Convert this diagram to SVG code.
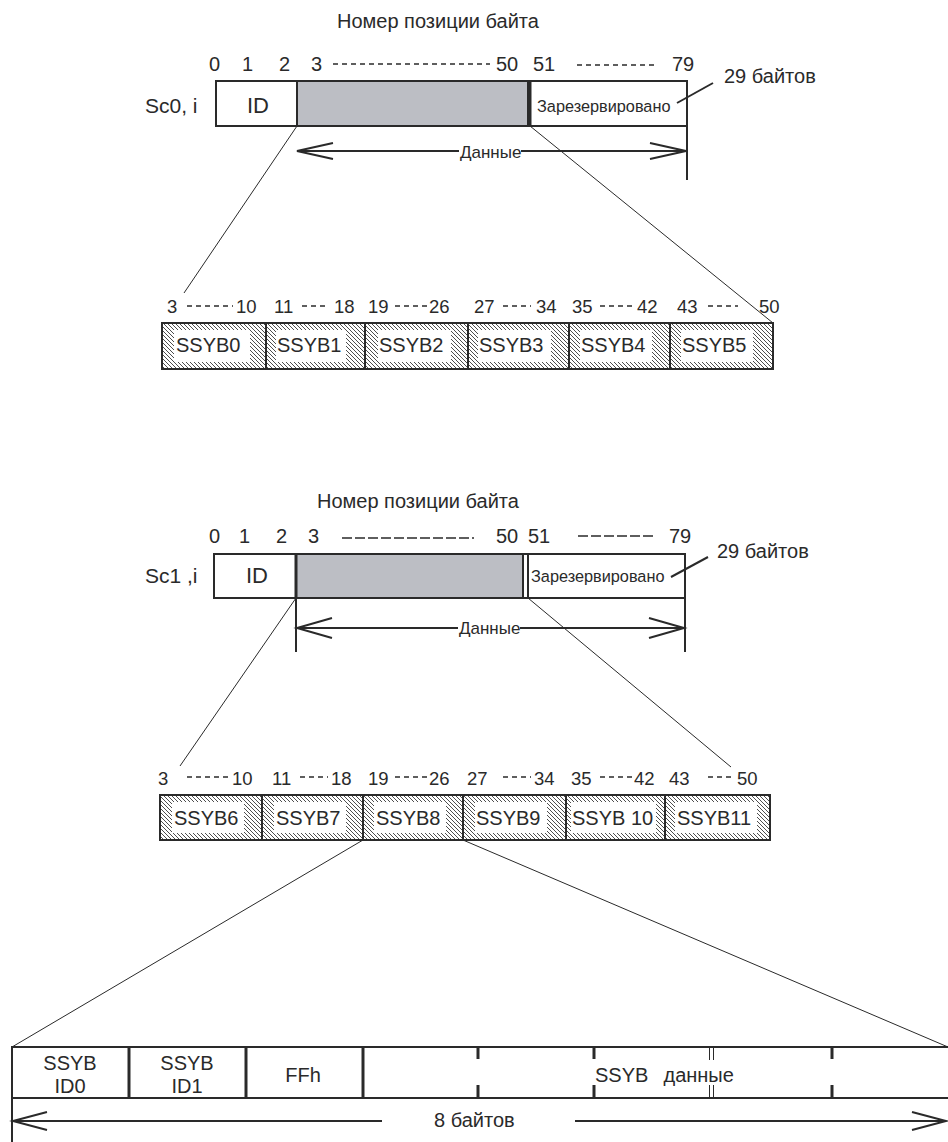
<svg xmlns="http://www.w3.org/2000/svg" width="948" height="1142" viewBox="0 0 948 1142">
<defs>
<pattern id="hatch" patternUnits="userSpaceOnUse" width="4" height="4">
<rect width="4" height="4" fill="#fff"/>
<path d="M-1,-1 L5,5 M-1,3 L1,5 M3,-1 L5,1" stroke="#3a3a3a" stroke-width="0.9"/>
</pattern>
<style>
text{font-family:"Liberation Sans",Arial,sans-serif;fill:#2a2a2a}
.t22{font-size:22px}
.t21{font-size:21px}
.t20{font-size:20px}
.t19{font-size:19px}
.t18{font-size:18.5px}
.t17{font-size:17px}
.t16{font-size:16.3px}
.box{fill:#fff;stroke:#2a2a2a;stroke-width:2}
.gray{fill:#bcbec4;stroke:#2a2a2a;stroke-width:2}
.ln{stroke:#2a2a2a;stroke-width:2;fill:none}
.thin{stroke:#2a2a2a;stroke-width:1;fill:none}
.thick{stroke:#2a2a2a;stroke-width:3;fill:none}
.ds{stroke:#2a2a2a;stroke-width:1.3;stroke-dasharray:5 4;fill:none}
.dl{stroke:#2a2a2a;stroke-width:1.3;stroke-dasharray:10 3;fill:none}
.hcell{fill:url(#hatch);stroke:none}
.hwin{fill:#fff;stroke:none}
.cellb{fill:none;stroke:#2a2a2a;stroke-width:2}
.mid{text-anchor:middle}
</style>
</defs>

<!-- ===== Section 1 ===== -->
<g id="title1"><text class="t20" x="337" y="28">Номер позиции байта</text></g>
<g id="scale1">
<text class="t20" x="209" y="71">0</text>
<text class="t20" x="242" y="71">1</text>
<text class="t20" x="279" y="71">2</text>
<text class="t20" x="311" y="71">3</text>
<line class="ds" x1="333" y1="64" x2="490" y2="64"/>
<text class="t20" x="496" y="71">50</text>
<text class="t20" x="533" y="71">51</text>
<line class="ds" x1="577" y1="65" x2="658" y2="65"/>
<text class="t20" x="672" y="71">79</text>
</g>
<g id="sc0">
<text class="t21" x="145" y="113">Sc0, i</text>
<rect class="box" x="216" y="81" width="471" height="45"/>
<rect class="gray" x="297" y="81" width="231" height="45"/>
<line class="thick" x1="530" y1="81" x2="530" y2="126"/>
<text class="t22" x="247" y="113">ID</text>
<text class="t16" x="537" y="112">Зарезервировано</text>
</g>
<g id="note1">
<text class="t20" x="724" y="83">29 байтов</text>
</g>
<g id="data1">
<text class="t17" x="460" y="158">Данные</text>
</g>

<!-- SSYB row 1 -->
<g id="row1labels">
<text class="t18" x="167" y="313">3</text>
<line class="ds" x1="187" y1="306" x2="233" y2="306"/>
<text class="t18" x="236" y="313">10</text>
<text class="t18" x="274" y="313">11</text>
<line class="ds" x1="302" y1="306" x2="328" y2="306"/>
<text class="t18" x="334" y="313">18</text>
<text class="t18" x="368" y="313">19</text>
<line class="ds" x1="395" y1="306" x2="428" y2="306"/>
<text class="t18" x="429" y="313">26</text>
<text class="t18" x="474" y="313">27</text>
<line class="ds" x1="503" y1="306" x2="531" y2="306"/>
<text class="t18" x="536" y="313">34</text>
<text class="t18" x="572" y="313">35</text>
<line class="ds" x1="600" y1="306" x2="634" y2="306"/>
<text class="t18" x="637" y="313">42</text>
<text class="t18" x="677" y="313">43</text>
<line class="ds" x1="708" y1="306" x2="738" y2="306"/>
<text class="t18" x="759" y="313">50</text>
</g>
<g id="ssyb0"><rect class="hcell" x="162" y="323" width="104" height="46"/><rect class="hwin" x="174" y="330" width="76" height="32"/><rect class="cellb" x="162" y="323" width="104" height="46"/><text class="t20" x="176" y="352">SSYB0</text></g>
<g id="ssyb1"><rect class="hcell" x="266" y="323" width="99" height="46"/><rect class="hwin" x="276" y="330" width="70" height="32"/><rect class="cellb" x="266" y="323" width="99" height="46"/><text class="t20" x="277" y="352">SSYB1</text></g>
<g id="ssyb2"><rect class="hcell" x="365" y="323" width="103" height="46"/><rect class="hwin" x="378" y="330" width="73" height="32"/><rect class="cellb" x="365" y="323" width="103" height="46"/><text class="t20" x="379" y="352">SSYB2</text></g>
<g id="ssyb3"><rect class="hcell" x="468" y="323" width="101" height="46"/><rect class="hwin" x="478" y="330" width="73" height="32"/><rect class="cellb" x="468" y="323" width="101" height="46"/><text class="t20" x="479" y="352">SSYB3</text></g>
<g id="ssyb4"><rect class="hcell" x="569" y="323" width="101" height="46"/><rect class="hwin" x="580" y="330" width="72" height="32"/><rect class="cellb" x="569" y="323" width="101" height="46"/><text class="t20" x="581" y="352">SSYB4</text></g>
<g id="ssyb5"><rect class="hcell" x="670" y="323" width="103" height="46"/><rect class="hwin" x="681" y="330" width="72" height="32"/><rect class="cellb" x="670" y="323" width="103" height="46"/><text class="t20" x="682" y="352">SSYB5</text></g>

<!-- ===== Section 2 ===== -->
<g id="title2"><text class="t20" x="317" y="508">Номер позиции байта</text></g>
<g id="scale2">
<text class="t20" x="209" y="543">0</text>
<text class="t20" x="239" y="543">1</text>
<text class="t20" x="276" y="543">2</text>
<text class="t20" x="308" y="543">3</text>
<line class="dl" x1="342" y1="538" x2="474" y2="538"/>
<text class="t20" x="496" y="543">50</text>
<text class="t20" x="528" y="543">51</text>
<line class="dl" x1="578" y1="536" x2="656" y2="536"/>
<text class="t20" x="669" y="543">79</text>
</g>
<g id="sc1">
<text class="t21" x="145" y="583">Sc1 ,i</text>
<rect class="box" x="214" y="554" width="471" height="44"/>
<rect class="gray" x="296" y="554" width="227" height="44"/>
<line class="thick" x1="296" y1="554" x2="296" y2="598"/>
<line class="ln" x1="528" y1="554" x2="528" y2="598"/>
<text class="t22" x="246" y="583">ID</text>
<text class="t16" x="531" y="582">Зарезервировано</text>
</g>
<g id="note2">
<text class="t20" x="717" y="558">29 байтов</text>
</g>
<g id="data2">
<text class="t17" x="459" y="634">Данные</text>
</g>

<!-- SSYB row 2 -->
<g id="row2labels">
<text class="t18" x="158" y="785">3</text>
<line class="ds" x1="187" y1="777" x2="231" y2="777"/>
<text class="t18" x="232" y="785">10</text>
<text class="t18" x="272" y="785">11</text>
<line class="ds" x1="300" y1="777" x2="328" y2="777"/>
<text class="t18" x="331" y="785">18</text>
<text class="t18" x="368" y="785">19</text>
<line class="ds" x1="395" y1="777" x2="428" y2="777"/>
<text class="t18" x="429" y="785">26</text>
<text class="t18" x="467" y="785">27</text>
<line class="ds" x1="503" y1="777" x2="531" y2="777"/>
<text class="t18" x="534" y="785">34</text>
<text class="t18" x="571" y="785">35</text>
<line class="ds" x1="600" y1="777" x2="633" y2="777"/>
<text class="t18" x="634" y="785">42</text>
<text class="t18" x="669" y="785">43</text>
<line class="ds" x1="708" y1="777" x2="734" y2="777"/>
<text class="t18" x="737" y="785">50</text>
</g>
<g id="ssyb6"><rect class="hcell" x="160" y="795" width="102" height="45"/><rect class="hwin" x="172" y="802" width="72" height="31"/><rect class="cellb" x="160" y="795" width="102" height="45"/><text class="t20" x="174" y="825">SSYB6</text></g>
<g id="ssyb7"><rect class="hcell" x="262" y="795" width="101" height="45"/><rect class="hwin" x="274" y="802" width="72" height="31"/><rect class="cellb" x="262" y="795" width="101" height="45"/><text class="t20" x="276" y="825">SSYB7</text></g>
<g id="ssyb8"><rect class="hcell" x="363" y="795" width="100" height="45"/><rect class="hwin" x="374" y="802" width="72" height="31"/><rect class="cellb" x="363" y="795" width="100" height="45"/><text class="t20" x="376" y="825">SSYB8</text></g>
<g id="ssyb9"><rect class="hcell" x="463" y="795" width="103" height="45"/><rect class="hwin" x="475" y="802" width="72" height="31"/><rect class="cellb" x="463" y="795" width="103" height="45"/><text class="t20" x="476" y="825">SSYB9</text></g>
<g id="ssyb10"><rect class="hcell" x="566" y="795" width="99" height="45"/><rect class="hwin" x="571" y="802" width="85" height="31"/><rect class="cellb" x="566" y="795" width="99" height="45"/><text class="t20" x="572" y="825">SSYB 10</text></g>
<g id="ssyb11"><rect class="hcell" x="665" y="795" width="105" height="45"/><rect class="hwin" x="675" y="802" width="82" height="31"/><rect class="cellb" x="665" y="795" width="105" height="45"/><text class="t20" x="677" y="825">SSYB11</text></g>

<!-- ===== Section 3 ===== -->
<g id="bytes">
<rect class="box" x="12" y="1047" width="938" height="51"/>
<line class="thick" x1="129" y1="1047" x2="129" y2="1098"/>
<line class="thick" x1="246" y1="1047" x2="246" y2="1098"/>
<line class="thick" x1="363" y1="1047" x2="363" y2="1098"/>
<path class="thick" d="M478,1047 V1059 M478,1085 V1098 M594,1047 V1059 M594,1085 V1098 M832,1047 V1059 M832,1085 V1098"/>
<path class="thin" d="M709.5,1047 V1060 M709.5,1085 V1098 M713.5,1047 V1060 M713.5,1085 V1098"/>
<text class="t20 mid" x="70" y="1070">SSYB</text>
<text class="t20 mid" x="70" y="1093">ID0</text>
<text class="t20 mid" x="187" y="1070">SSYB</text>
<text class="t20 mid" x="187" y="1093">ID1</text>
<text class="t20 mid" x="303" y="1082">FFh</text>
<text class="t20" x="595" y="1082" xml:space="preserve">SSYB  <tspan dx="4">данные</tspan></text>
</g>
<g id="size8">
<text class="t20" x="434" y="1127">8 байтов</text>
</g>

<!-- ===== Connectors ===== -->
<g id="connectors">
<!-- section 1 -->
<line class="ln" x1="687" y1="126" x2="687" y2="180"/>
<line class="ln" x1="677" y1="103" x2="713" y2="83"/>
<line class="ln" x1="298" y1="151" x2="459" y2="151"/>
<line class="ln" x1="521" y1="151" x2="685" y2="151"/>
<path class="ln" d="M333,143 L297,151 L333,159"/>
<path class="ln" d="M650,143 L686,151 L650,159"/>
<line class="thin" x1="297" y1="126" x2="184" y2="293"/>
<line class="thin" x1="530" y1="126" x2="773" y2="323"/>
<!-- section 2 -->
<line class="ln" x1="685" y1="598" x2="685" y2="652"/>
<line class="ln" x1="296" y1="598" x2="296" y2="652"/>
<line class="ln" x1="671" y1="577" x2="708" y2="557"/>
<line class="ln" x1="297" y1="628" x2="458" y2="628"/>
<line class="ln" x1="520" y1="628" x2="683" y2="628"/>
<path class="ln" d="M332,618 L297,628 L332,638"/>
<path class="ln" d="M649,618 L684,628 L649,638"/>
<line class="thin" x1="296" y1="598" x2="180" y2="766"/>
<line class="thin" x1="528" y1="598" x2="731" y2="767"/>
<!-- section 3 -->
<line class="thin" x1="363" y1="840" x2="12" y2="1047"/>
<line class="thin" x1="463" y1="840" x2="948" y2="1047"/>
<line class="ln" x1="12" y1="1098" x2="12" y2="1142"/>
<line class="ln" x1="13" y1="1121" x2="382" y2="1121"/>
<line class="ln" x1="575" y1="1121" x2="945" y2="1121"/>
<path class="ln" d="M47,1112 L13,1121 L47,1130"/>
<path class="ln" d="M912,1112 L946,1121 L912,1130"/>
</g>
</svg>
